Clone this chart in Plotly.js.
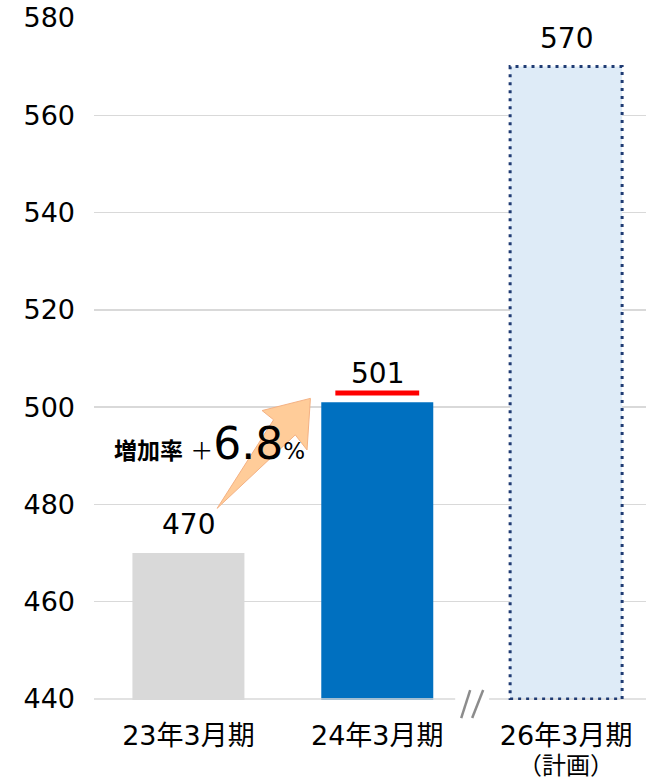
<!DOCTYPE html>
<html>
<head>
<meta charset="utf-8">
<script src="https://cdn.plot.ly/plotly-3.0.1.min.js"></script>
<style>html,body{margin:0;padding:0;background:#fff;}</style>
</head>
<body>
<div id="chart" style="width:646px;height:781px;"></div>
<script>
// ---- data ----
const categories = ['23年3月期', '24年3月期', '26年3月期'];
const categoryNotes = ['', '', '（計画）'];
const values = [470, 501, 570];
const barColors = ['#d9d9d9', '#0070c0', '#deebf7'];
const yTicks = [440, 460, 480, 500, 520, 540, 560, 580];
const growthValue = '6.8';

const FONT = '"DejaVu Sans", "Noto Sans CJK JP", sans-serif';
const BW = 0.593;

const trace = {
  type: 'bar',
  x: categories,
  y: values,
  width: BW,
  marker: { color: barColors, line: { width: 0 } },
  hoverinfo: 'skip'
};

const annotations = values.map((v, i) => ({
  x: categories[i], y: v, xref: 'x', yref: 'y',
  text: String(v), showarrow: false, yanchor: 'bottom', yshift: 10,
  font: { family: FONT, size: 28, color: '#000' }
}));

categoryNotes.forEach((n, i) => {
  if (!n) return;
  annotations.push({
    x: categories[i], xref: 'x', y: 0, yref: 'paper', yanchor: 'top', yshift: -50,
    text: n, showarrow: false, font: { family: FONT, size: 24, color: '#000' }
  });
});

annotations.push({
  xref: 'paper', yref: 'paper', x: 0.0335, y: 0.376, xanchor: 'left', yanchor: 'middle',
  showarrow: false,
  text: '<b>増加率</b> ＋<span style="font-size:44px">' + growthValue + '</span>%',
  font: { family: FONT, size: 23, color: '#000' }
});

const shapes = [
  // baseline gridline at the axis minimum
  {
    type: 'line', xref: 'paper', yref: 'y', layer: 'above',
    x0: 0, x1: 1, y0: yTicks[0], y1: yTicks[0],
    line: { color: '#d9d9d9', width: 1.5 }
  },
  // arrow (decorative)
  {
    type: 'path', xref: 'x', yref: 'y', layer: 'above',
    path: 'M0.152,479.2 L0.451,497.4 L0.390,499.3 L0.646,501.8 L0.628,491.2 L0.566,494.3 Z',
    fillcolor: '#ffcc99', line: { color: '#f4b183', width: 1 }
  },
  // red underline above 24年 value
  {
    type: 'line', xref: 'x', yref: 'y', layer: 'above',
    x0: 1 - 0.222, x1: 1 + 0.222, y0: values[1] + 1.9, y1: values[1] + 1.9,
    line: { color: '#ff0000', width: 5 }
  },
  // dotted border for plan bar
  {
    type: 'rect', xref: 'x', yref: 'y', layer: 'above',
    x0: 2 - BW / 2, x1: 2 + BW / 2, y0: yTicks[0], y1: values[2],
    line: { color: '#1f3b73', width: 3, dash: '3px,5px' }, fillcolor: 'rgba(0,0,0,0)'
  },
  // gap in baseline for break mark
  {
    type: 'rect', xref: 'paper', yref: 'paper', layer: 'above',
    x0: 0.6543, x1: 0.7158, y0: -0.005, y1: 0.005,
    fillcolor: '#ffffff', line: { width: 0 }
  },
  // break mark slashes
  {
    type: 'line', xref: 'paper', yref: 'paper', layer: 'above',
    x0: 0.6652, y0: -0.0264, x1: 0.6815, y1: 0.0146,
    line: { color: '#8c8c8c', width: 2.5 }
  },
  {
    type: 'line', xref: 'paper', yref: 'paper', layer: 'above',
    x0: 0.6851, y0: -0.0264, x1: 0.7050, y1: 0.0146,
    line: { color: '#8c8c8c', width: 2.5 }
  }
];

const layout = {
  width: 646, height: 781,
  margin: { l: 93.5, r: 0, t: 17, b: 81 },
  paper_bgcolor: '#fff', plot_bgcolor: '#fff',
  showlegend: false,
  xaxis: {
    type: 'category', range: [-0.5, 2.423],
    showgrid: false, zeroline: false, showline: false, ticks: '',
    ticklabelstandoff: 17,
    tickfont: { family: FONT, size: 27, color: '#000' }
  },
  yaxis: {
    range: [439.8, 580.2],
    tickvals: yTicks, ticktext: yTicks.map(String),
    showgrid: true, gridcolor: '#d9d9d9', gridwidth: 1.5,
    zeroline: false, showline: false, ticks: '',
    ticklabelstandoff: 18,
    tickfont: { family: FONT, size: 27, color: '#000' }
  },
  annotations: annotations,
  shapes: shapes
};

Plotly.newPlot('chart', [trace], layout, { displayModeBar: false, staticPlot: true });
</script>
</body>
</html>
